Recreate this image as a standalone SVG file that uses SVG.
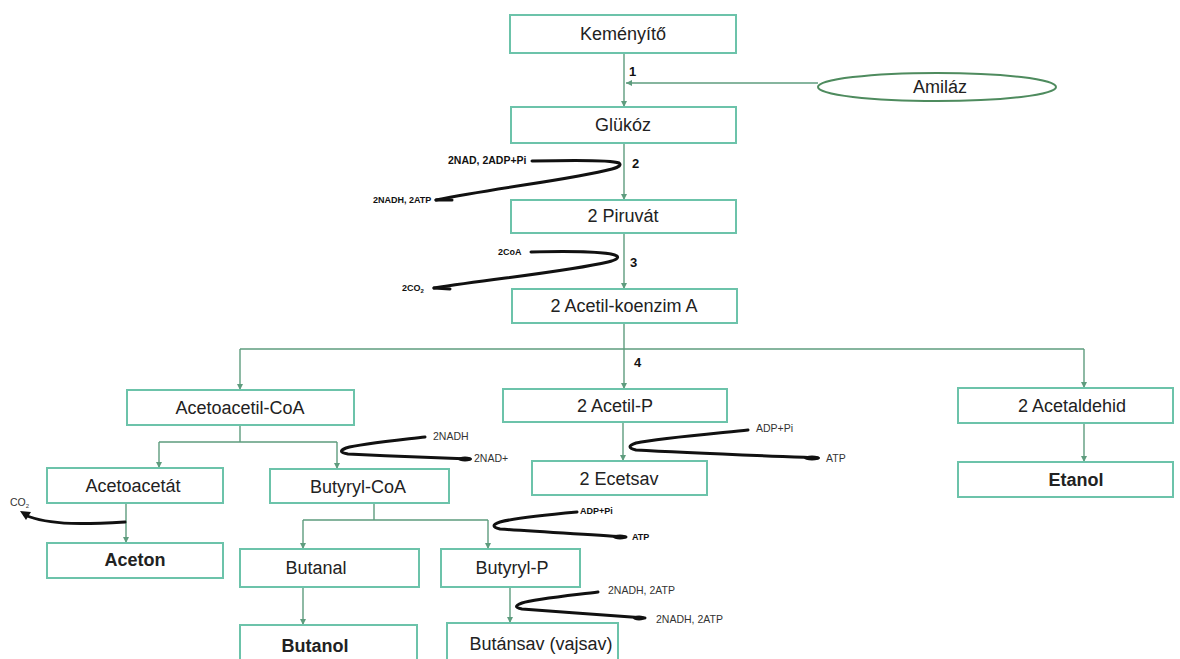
<svg xmlns="http://www.w3.org/2000/svg" width="1180" height="659" viewBox="0 0 1180 659">
<style>
.box{fill:#fff;stroke:#6cc3aa;stroke-width:2}
.lbl{font-family:"Liberation Sans",Arial,sans-serif;font-size:18px;fill:#222;text-anchor:middle}
.b{font-weight:bold}
.num{font-family:"Liberation Sans",Arial,sans-serif;font-size:13px;font-weight:bold;fill:#111}
.sm{font-family:"Liberation Sans",Arial,sans-serif;font-size:10.5px;fill:#333}
.smb{font-family:"Liberation Sans",Arial,sans-serif;font-size:9px;font-weight:bold;fill:#111}
.con{fill:none;stroke:#5e9c7e;stroke-width:1.4}
.blk{fill:none;stroke:#111;stroke-width:3;stroke-linecap:round;stroke-linejoin:round}
</style>
<defs>
<marker id="ah" viewBox="0 0 10 10" refX="10" refY="5" markerWidth="6" markerHeight="6" orient="auto" markerUnits="userSpaceOnUse">
<path d="M0,0 L10,5 L0,10 z" fill="#5e9c7e"/>
</marker>
</defs>
<rect width="1180" height="659" fill="#fff"/>
<g id="connectors">
<path class="con" d="M624,53 V107" marker-end="url(#ah)"/>
<path class="con" d="M818,83 H626" marker-end="url(#ah)"/>
<path class="con" d="M624,143 V200" marker-end="url(#ah)"/>
<path class="con" d="M624,233 V289" marker-end="url(#ah)"/>
<path class="con" d="M624,323 V389" marker-end="url(#ah)"/>
<path class="con" d="M240,349 H1084"/>
<path class="con" d="M240,349 V390" marker-end="url(#ah)"/>
<path class="con" d="M1084,349 V388" marker-end="url(#ah)"/>
<path class="con" d="M1084,423 V462" marker-end="url(#ah)"/>
<path class="con" d="M623,422 V461" marker-end="url(#ah)"/>
<path class="con" d="M240,425 V442 M159,442 H337"/>
<path class="con" d="M159,442 V468" marker-end="url(#ah)"/>
<path class="con" d="M337,442 V469" marker-end="url(#ah)"/>
<path class="con" d="M126,503 V543" marker-end="url(#ah)"/>
<path class="con" d="M374,503 V520 M303,520 H488"/>
<path class="con" d="M303,520 V549" marker-end="url(#ah)"/>
<path class="con" d="M488,520 V549" marker-end="url(#ah)"/>
<path class="con" d="M303,587 V625" marker-end="url(#ah)"/>
<path class="con" d="M510,587 V623" marker-end="url(#ah)"/>
</g>
<g id="side-reactions">
<path class="blk" d="M532,161 C575,160 612,160 619,163 Q623,166 612,169 C570,180 500,187 436,200"/>
<path class="blk" d="M436,200 L452,200" stroke-width="2"/>
<path class="blk" d="M531,252 C575,251 610,252 617,256 Q620,259 608,262 C570,271 500,278 434,288"/>
<path class="blk" d="M434,288 L450,289" stroke-width="2"/>
<path class="blk" d="M425,437 C400,440 360,444 346,448 Q336,452 348,454 C390,456 440,458 470,459"/>
<ellipse cx="465" cy="459" rx="7" ry="2.5" fill="#111"/>
<path class="blk" d="M748,430 C720,433 660,438 636,443 Q624,447 636,450 C690,453 770,456 818,458"/>
<ellipse cx="812" cy="458" rx="8" ry="2.5" fill="#111"/>
<path class="blk" d="M577,512 C555,514 515,518 500,522 Q488,526 500,529 C540,532 600,535 626,537"/>
<ellipse cx="620" cy="537" rx="7" ry="2.5" fill="#111"/>
<path class="blk" d="M598,592 C575,595 535,599 522,603 Q511,607 522,609 C560,612 620,616 645,618"/>
<ellipse cx="639" cy="618" rx="6" ry="2.5" fill="#111"/>
<path class="blk" d="M125,522 C90,524 50,526 25,515" stroke-width="2.5"/>
<path d="M20,511 L31,512 L26,520 z" fill="#111"/>
</g>
<g id="n-kemenyito"><rect class="box" x="510" y="15" width="226" height="38"/><text class="lbl" x="623" y="40">Keményítő</text></g>
<g id="n-amilaz"><ellipse cx="937" cy="87" rx="119" ry="14" fill="#fff" stroke="#4e8b5e" stroke-width="2"/><text class="lbl" x="940" y="93">Amiláz</text></g>
<g id="n-glukoz"><rect class="box" x="511" y="107" width="225" height="36"/><text class="lbl" x="623" y="131">Glükóz</text></g>
<g id="n-piruvat"><rect class="box" x="511" y="200" width="225" height="33"/><text class="lbl" x="623" y="222">2 Piruvát</text></g>
<g id="n-acetilkoa"><rect class="box" x="512" y="289" width="225" height="34"/><text class="lbl" x="624" y="312">2 Acetil-koenzim A</text></g>
<g id="n-acetoacetilcoa"><rect class="box" x="127" y="390" width="227" height="35"/><text class="lbl" x="240" y="414">Acetoacetil-CoA</text></g>
<g id="n-acetilp"><rect class="box" x="503" y="389" width="224" height="33"/><text class="lbl" x="615" y="412">2 Acetil-P</text></g>
<g id="n-acetaldehid"><rect class="box" x="958" y="388" width="215" height="35"/><text class="lbl" x="1072" y="412">2 Acetaldehid</text></g>
<g id="n-etanol"><rect class="box" x="958" y="462" width="215" height="35"/><text class="lbl b" x="1076" y="486">Etanol</text></g>
<g id="n-acetoacetat"><rect class="box" x="47" y="468" width="176" height="35"/><text class="lbl" x="133" y="492">Acetoacetát</text></g>
<g id="n-aceton"><rect class="box" x="47" y="543" width="176" height="35"/><text class="lbl b" x="135" y="566">Aceton</text></g>
<g id="n-butyrylcoa"><rect class="box" x="270" y="469" width="179" height="34"/><text class="lbl" x="358" y="493">Butyryl-CoA</text></g>
<g id="n-ecetsav"><rect class="box" x="532" y="461" width="175" height="34"/><text class="lbl" x="619" y="485">2 Ecetsav</text></g>
<g id="n-butanal"><rect class="box" x="240" y="549" width="179" height="38"/><text class="lbl" x="316" y="574">Butanal</text></g>
<g id="n-butyrylp"><rect class="box" x="441" y="549" width="139" height="38"/><text class="lbl" x="512" y="574">Butyryl-P</text></g>
<g id="n-butanol"><rect class="box" x="240" y="625" width="177" height="42"/><text class="lbl b" x="315" y="652">Butanol</text></g>
<g id="n-butansav"><rect class="box" x="447" y="623" width="171" height="42"/><text class="lbl" x="541" y="650">Butánsav (vajsav)</text></g>
<g id="labels">
<text class="num" x="629" y="76">1</text>
<text class="num" x="632" y="168">2</text>
<text class="num" x="630" y="267">3</text>
<text class="num" x="634" y="367">4</text>
<text class="smb" x="448" y="164" style="font-size:10.5px">2NAD,  2ADP+Pi</text>
<text class="smb" x="373" y="203">2NADH, 2ATP</text>
<text class="smb" x="498" y="255">2CoA</text>
<text class="smb" x="402" y="291">2CO<tspan font-size="6" dy="2">2</tspan></text>
<text class="sm" x="433" y="440">2NADH</text>
<text class="sm" x="474" y="462">2NAD+</text>
<text class="sm" x="756" y="432">ADP+Pi</text>
<text class="sm" x="826" y="462">ATP</text>
<text class="smb" x="580" y="514">ADP+Pi</text>
<text class="smb" x="632" y="540">ATP</text>
<text class="sm" x="608" y="594">2NADH, 2ATP</text>
<text class="sm" x="656" y="623">2NADH, 2ATP</text>
<text class="sm" x="10" y="506">CO<tspan font-size="6" dy="2">2</tspan></text>
</g>
</svg>
